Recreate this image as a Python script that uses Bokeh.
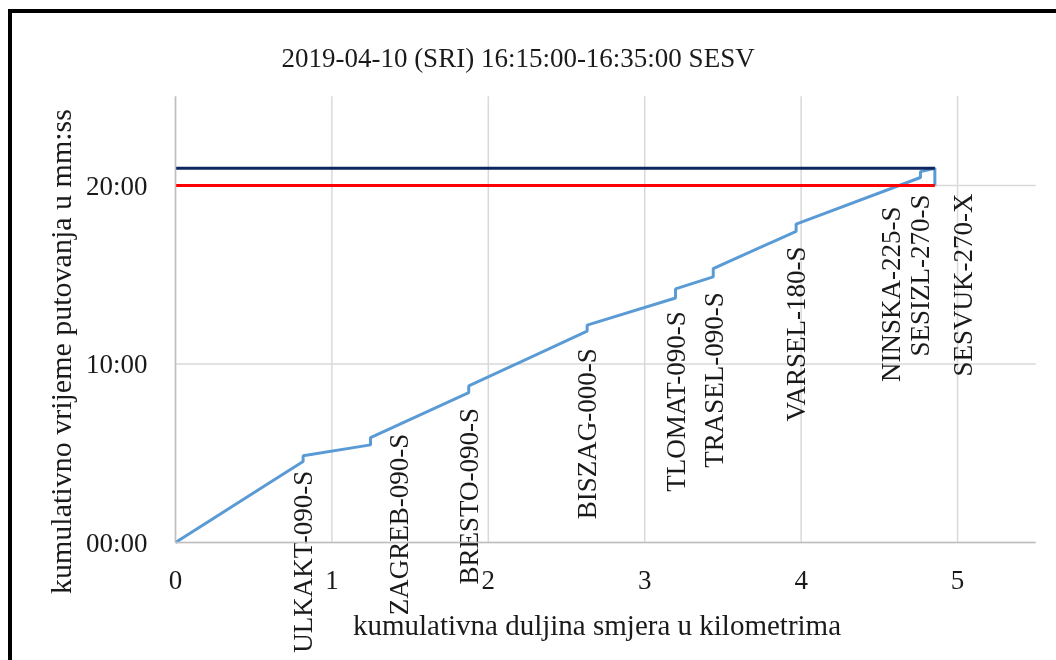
import math
from bokeh.plotting import figure
from bokeh.models import Range1d, FixedTicker, Label, ColumnDataSource
from bokeh.core.properties import value
from bokeh.embed import file_html
from bokeh.resources import INLINE

# ---- data ----
TITLE = "2019-04-10 (SRI) 16:15:00-16:35:00 SESV"
X_LABEL = "kumulativna duljina smjera u kilometrima"
Y_LABEL = "kumulativno vrijeme putovanja u mm:ss"

# cumulative travel curve (km, minutes)
route_km = [0.0, 0.816, 0.816, 1.247, 1.247, 1.875, 1.875, 2.632, 2.632,
            3.197, 3.197, 3.438, 3.438, 3.968, 3.968, 4.763, 4.763, 4.855, 4.855]
route_min = [0.0, 4.54, 4.86, 5.47, 5.88, 8.40, 8.77, 11.84, 12.18,
             13.70, 14.21, 14.88, 15.35, 17.43, 17.84, 20.45, 20.78, 20.97, 20.0]

# total travel time and limit lines
total_km = [0.0, 4.855]
total_min = [20.97, 20.97]
limit_km = [0.0, 4.855]
limit_min = [20.0, 20.0]

# intersection labels
node_names = ["ULKAKT-090-S", "ZAGREB-090-S", "BRESTO-090-S", "BISZAG-000-S",
              "TLOMAT-090-S", "TRASEL-090-S", "VARSEL-180-S", "NINSKA-225-S",
              "SESIZL-270-S", "SESVUK-270-X"]
node_km = [0.818, 1.432, 1.875, 2.63, 3.197, 3.44, 3.97, 4.572, 4.763, 5.038]
node_label_min = [4.02, 6.09, 7.54, 10.89, 12.96, 14.02, 16.59, 18.83, 19.50, 19.55]

x_ticks = [0, 1, 2, 3, 4, 5]
y_ticks = [0, 10, 20]
y_tick_labels = ["00:00", "10:00", "20:00"]
X_MAX = 5.5     # axis maximum (km)
Y_MAX = 25      # axis maximum (min)

FONT = "Liberation Serif"
TXT = "#1a1a1a"

# the frame fills the whole canvas; axes are pinned at 0 inside it.
# The chart area is larger than the window (as in the reference), so the
# element is fixed-positioned to avoid page scrollbars.
p = figure(width=1060, height=670, output_backend="svg", toolbar_location=None,
           title=None,
           x_range=Range1d(-1.042, 5.735), y_range=Range1d(-7.90, 29.64),
           min_border_left=0, min_border_right=0, min_border_top=0,
           min_border_bottom=0)
p.styles = {"position": "fixed", "left": "8px", "top": "9px",
            "border-left": "4px solid black", "border-top": "4px solid black"}
p.outline_line_color = None
p.background_fill_color = "white"
p.border_fill_color = "white"
p.xgrid.visible = False
p.ygrid.visible = False

# grid lines limited to the plot area
p.segment(x0=x_ticks, y0=[0] * len(x_ticks), x1=x_ticks, y1=[Y_MAX] * len(x_ticks),
          line_color="#D9D9D9", line_width=1.5)
p.segment(x0=[0] * len(y_ticks), y0=y_ticks, x1=[X_MAX] * len(y_ticks), y1=y_ticks,
          line_color="#D9D9D9", line_width=1.5)

p.line(route_km, route_min, line_color="#5B9BD5", line_width=3)
p.line(total_km, total_min, line_color="#0E2660", line_width=3)
p.line(limit_km, limit_min, line_color="#FF0000", line_width=3)

src = ColumnDataSource(dict(x=node_km, y=node_label_min, t=node_names))
p.text(x="x", y="y", text="t", source=src, angle=math.pi / 2,
       text_align="right", text_baseline="middle",
       text_font=value(FONT), text_font_size="27px", text_color=TXT)

# axes
for ax in (p.xaxis[0], p.yaxis[0]):
    ax.fixed_location = 0
    ax.axis_line_color = "#BFBFBF"
    ax.axis_line_width = 1.5
    ax.major_tick_line_color = None
    ax.minor_tick_line_color = None
    ax.major_label_text_font = FONT
    ax.major_label_text_font_size = "27px"
    ax.major_label_text_color = TXT

p.xaxis.bounds = (0, X_MAX)
p.yaxis.bounds = (0, Y_MAX)
p.xaxis.ticker = FixedTicker(ticks=x_ticks)
p.yaxis.ticker = FixedTicker(ticks=y_ticks)
p.yaxis.major_label_overrides = {t: s for t, s in zip(y_ticks, y_tick_labels)}
p.xaxis.major_label_standoff = 22
p.yaxis.major_label_standoff = 22

# title and axis titles
p.add_layout(Label(x=2.19, y=27.17, text=TITLE,
                   text_align="center", text_baseline="alphabetic",
                   text_font=FONT, text_font_size="27px", text_color=TXT))
p.add_layout(Label(x=2.695, y=-4.65, text=X_LABEL,
                   text_align="center", text_baseline="alphabetic",
                   text_font=FONT, text_font_size="29px", text_color=TXT))
p.add_layout(Label(x=-0.738, y=10.70, text=Y_LABEL, angle=math.pi / 2,
                   text_align="center", text_baseline="middle",
                   text_font=FONT, text_font_size="30px", text_color=TXT))

open("out.html", "w").write(file_html(p, INLINE))
